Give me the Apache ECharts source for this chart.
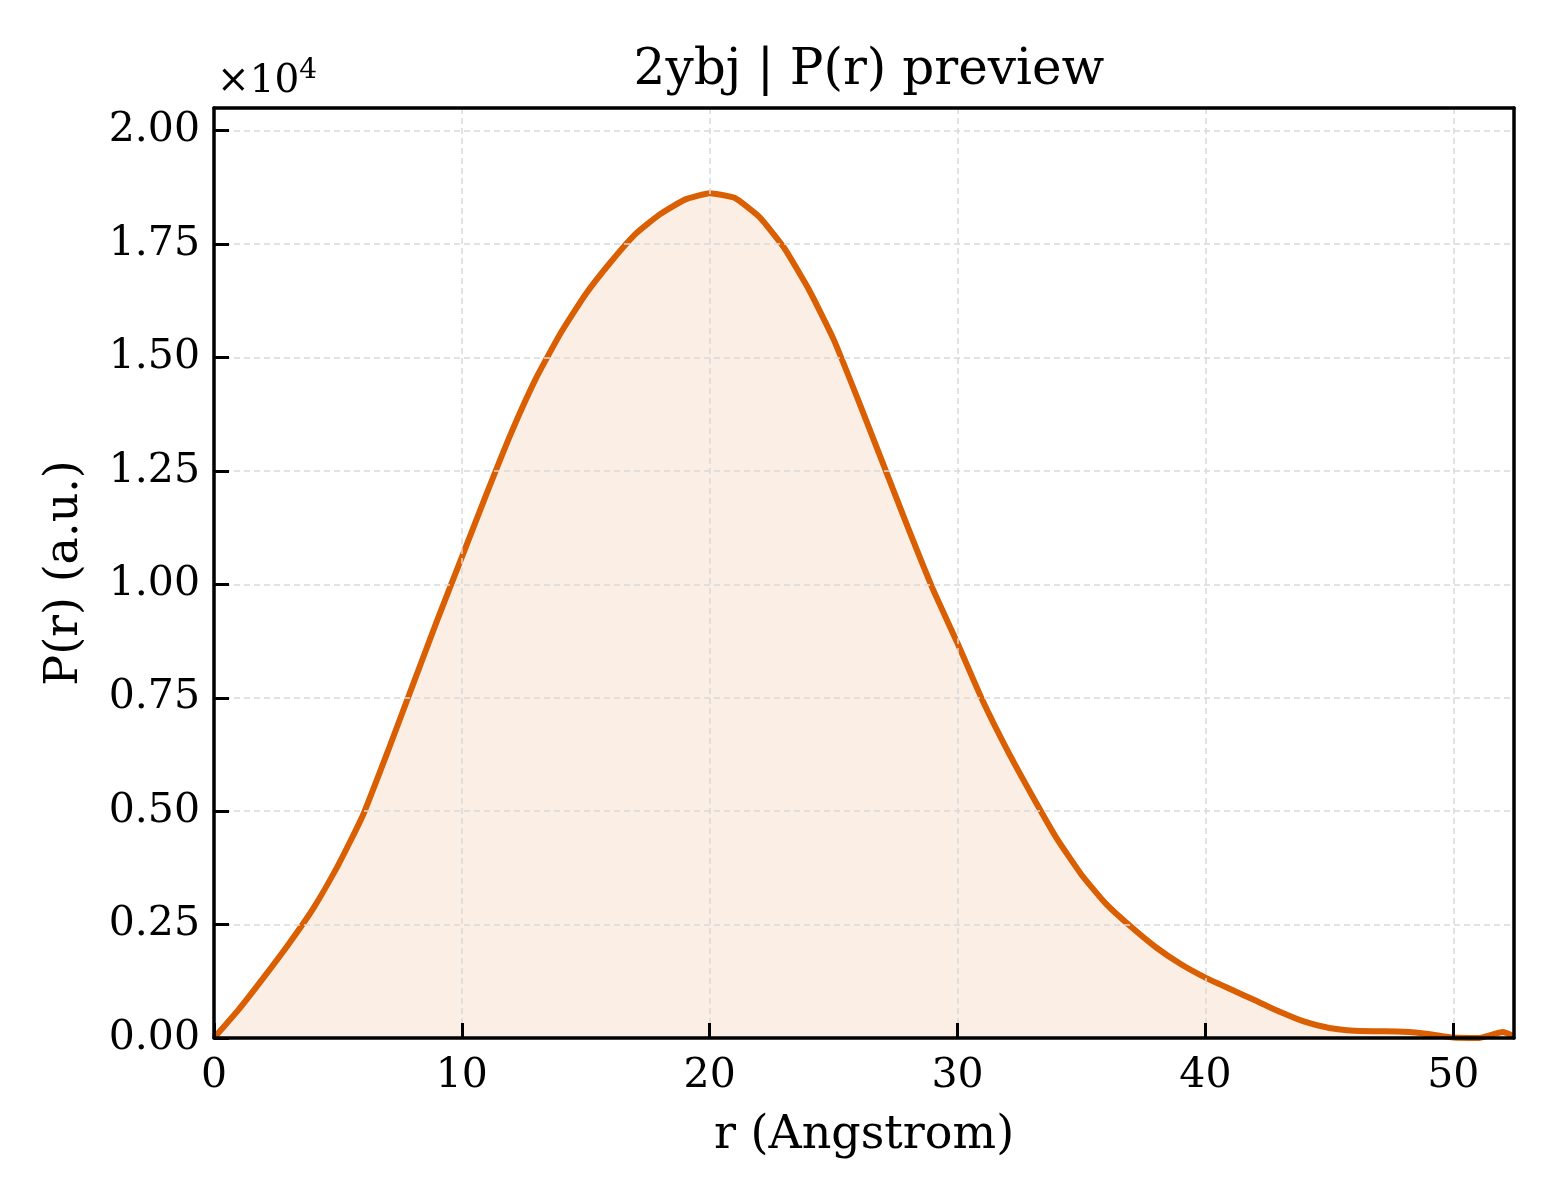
<!DOCTYPE html>
<html>
<head>
<meta charset="utf-8">
<script src="https://cdn.jsdelivr.net/npm/echarts@6/dist/echarts.min.js"></script>
<style>
html,body{margin:0;padding:0;background:#fff;}
#chart{width:1560px;height:1200px;}
</style>
</head>
<body>
<div id="chart"></div>
<script>
const titleText = '2ybj | P(r) preview';
const xLabel = 'r (Angstrom)';
const yLabel = 'P(r) (a.u.)';
const rValues = [0,1,2,3,4,5,6,7,8,9,10,11,12,13,14,15,16,17,18,19,20,21,22,23,24,25,26,27,28,29,30,31,32,33,34,35,36,37,38,39,40,41,42,43,44,45,46,47,48,49,50,51,52,52.45];
const prValues = [0,630,1330,2060,2850,3800,4900,6300,7750,9200,10600,12000,13350,14550,15550,16400,17100,17720,18160,18480,18620,18520,18100,17420,16500,15400,14050,12650,11250,9900,8700,7450,6350,5350,4400,3600,2950,2450,2000,1630,1330,1080,830,580,360,220,160,150,140,90,10,0,130,40];
const xRange = [0, 52.45];
const yRange = [0, 20500];
const scaleBase = '×10';
const scaleExp = '4';

const serif = 'DejaVu Serif';
const chart = echarts.init(document.getElementById('chart'));
const data = rValues.map((r, i) => [r, prValues[i]]);
const frameAxis = { show: true, onZero: false, lineStyle: { color: '#000', width: 3.5 } };
chart.setOption({
  backgroundColor: '#ffffff',
  animation: false,
  title: {
    text: titleText, left: 864, top: 41, textAlign: 'center',
    textStyle: { fontFamily: serif, fontSize: 50, fontWeight: 'normal', color: '#000' }
  },
  graphic: [{
    type: 'text', left: 217, top: 57, z: 10,
    style: {
      text: '{b|' + scaleBase + '}{e|' + scaleExp + '}',
      rich: {
        b: { fontFamily: serif, fontSize: 39, fill: '#000', color: '#000', verticalAlign: 'bottom', lineHeight: 44 },
        e: { fontFamily: serif, fontSize: 28, fill: '#000', color: '#000', verticalAlign: 'top', lineHeight: 44, padding: [0, 0, 14, 0] }
      }
    }
  }],
  grid: { left: 214, right: 46, top: 108, bottom: 162, show: false },
  xAxis: [{
    type: 'value', min: xRange[0], max: xRange[1], interval: 10,
    name: xLabel, nameLocation: 'middle', nameGap: 75,
    nameTextStyle: { fontFamily: serif, fontSize: 46, color: '#000' },
    axisLine: frameAxis,
    axisTick: { show: true, inside: true, length: 15, lineStyle: { color: '#000', width: 3 } },
    axisLabel: { fontFamily: serif, fontSize: 41, color: '#000', margin: 18, showMaxLabel: false },
    splitLine: { show: true, showMinLine: false, showMaxLine: false, lineStyle: { color: '#d9d9d9', width: 1.5, type: [6, 4] } },
    z: 5
  }, {
    type: 'value', position: 'top', min: xRange[0], max: xRange[1], interval: 10,
    axisLine: frameAxis, axisTick: { show: false }, axisLabel: { show: false }, splitLine: { show: false }, z: 5
  }],
  yAxis: [{
    type: 'value', min: yRange[0], max: yRange[1], interval: 2500,
    name: yLabel, nameLocation: 'middle', nameGap: 126, nameRotate: 90,
    nameTextStyle: { fontFamily: serif, fontSize: 46, color: '#000' },
    axisLine: frameAxis,
    axisTick: { show: true, inside: true, length: 15, lineStyle: { color: '#000', width: 3 } },
    axisLabel: { fontFamily: serif, fontSize: 41, color: '#000', margin: 14, showMaxLabel: false,
      formatter: v => (v / 10000).toFixed(2) },
    splitLine: { show: true, showMinLine: false, showMaxLine: false, lineStyle: { color: '#d9d9d9', width: 1.5, type: [6, 4] } },
    z: 5
  }, {
    type: 'value', position: 'right', min: yRange[0], max: yRange[1], interval: 2500,
    axisLine: frameAxis, axisTick: { show: false }, axisLabel: { show: false }, splitLine: { show: false }, z: 5
  }],
  series: [{
    type: 'line', data: data, showSymbol: false, smooth: 0.15, clip: true,
    xAxisIndex: 0, yAxisIndex: 0,
    lineStyle: { color: '#D95F02', width: 6 },
    areaStyle: { color: 'rgba(217,95,2,0.15)' },
    z: 3
  }]
});
</script>
</body>
</html>
